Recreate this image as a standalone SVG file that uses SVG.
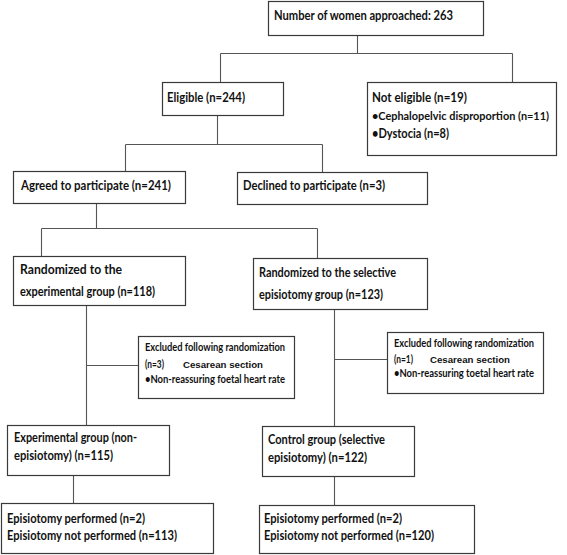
<svg xmlns="http://www.w3.org/2000/svg" width="567" height="555" viewBox="0 0 567 555">
<style>
.box{fill:#fff;stroke:#3a3a3a;stroke-width:1.2}
.c{fill:none;stroke:#555;stroke-width:1.1}
text{font-family:Lato,"Open Sans","Liberation Sans",sans-serif;font-size:13px;fill:#111;font-weight:bold}
.s{font-size:11px}
.a{font-family:"Liberation Sans",Arial,sans-serif;font-size:9px;font-weight:bold}
</style>
<rect width="567" height="555" fill="#fff"/>
<g id="connectors">
<path class="c" d="M357.5,35V53.5M220.5,53.5H512.5M220.5,53.5V82M512.5,53.5V82"/>
<path class="c" d="M217.5,115V144.5M125.5,144.5H322.5M125.5,144.5V171M322.5,144.5V172"/>
<path class="c" d="M96.5,203V228.5M41.5,228.5H317.5M41.5,228.5V256M317.5,228.5V258"/>
<path class="c" d="M86.5,305V425M86.5,365.5H138"/>
<path class="c" d="M334.5,309V426M334.5,359.5H387"/>
<path class="c" d="M73.5,475V503M334.5,476V505"/>
</g>
<g id="n1"><rect class="box" x="268.5" y="1.5" width="215" height="34"/>
<text x="274" y="20" textLength="179" lengthAdjust="spacingAndGlyphs">Number of women approached: 263</text></g>
<g id="n2"><rect class="box" x="162.5" y="82.5" width="121" height="33"/>
<text x="167" y="102" textLength="78" lengthAdjust="spacingAndGlyphs">Eligible (n=244)</text></g>
<g id="n3"><rect class="box" x="367.5" y="82.5" width="189" height="73"/>
<text x="372" y="102" textLength="95" lengthAdjust="spacingAndGlyphs">Not eligible (n=19)</text>
<text x="372" y="120" textLength="177" lengthAdjust="spacingAndGlyphs" style="font-size:11.6px">•Cephalopelvic disproportion (n=11)</text>
<text x="372" y="138" textLength="77" lengthAdjust="spacingAndGlyphs">•Dystocia (n=8)</text></g>
<g id="n4"><rect class="box" x="13.5" y="171.5" width="172" height="32"/>
<text x="21" y="190" textLength="150" lengthAdjust="spacingAndGlyphs">Agreed to participate (n=241)</text></g>
<g id="n5"><rect class="box" x="237.5" y="172.5" width="190" height="32"/>
<text x="243" y="190" textLength="142" lengthAdjust="spacingAndGlyphs">Declined to participate (n=3)</text></g>
<g id="n6"><rect class="box" x="13.5" y="256.5" width="172" height="49"/>
<text x="20" y="274" textLength="102" lengthAdjust="spacingAndGlyphs">Randomized to the</text>
<text x="20" y="296" textLength="135" lengthAdjust="spacingAndGlyphs">experimental group (n=118)</text></g>
<g id="n7"><rect class="box" x="253.5" y="258.5" width="174" height="51"/>
<text x="259" y="277" textLength="137" lengthAdjust="spacingAndGlyphs">Randomized to the selective</text>
<text x="259" y="299" textLength="124" lengthAdjust="spacingAndGlyphs">episiotomy group (n=123)</text></g>
<g id="n8"><rect class="box" x="138.5" y="336.5" width="156" height="62"/>
<text class="s" x="145" y="351" textLength="140" lengthAdjust="spacingAndGlyphs">Excluded following randomization</text>
<text class="s" x="145" y="368" textLength="19" lengthAdjust="spacingAndGlyphs">(n=3)</text>
<text class="a" x="183" y="368" textLength="80" lengthAdjust="spacingAndGlyphs">Cesarean section</text>
<text class="s" x="145" y="383" textLength="140" lengthAdjust="spacingAndGlyphs">•Non-reassuring foetal heart rate</text></g>
<g id="n9"><rect class="box" x="387.5" y="332.5" width="156" height="61"/>
<text class="s" x="394" y="347" textLength="140" lengthAdjust="spacingAndGlyphs">Excluded following randomization</text>
<text class="s" x="394" y="363" textLength="19" lengthAdjust="spacingAndGlyphs">(n=1)</text>
<text class="a" x="430" y="363" textLength="80" lengthAdjust="spacingAndGlyphs">Cesarean section</text>
<text class="s" x="394" y="377" textLength="140" lengthAdjust="spacingAndGlyphs">•Non-reassuring toetal heart rate</text></g>
<g id="n10"><rect class="box" x="7.5" y="425.5" width="162" height="50"/>
<text x="14" y="442" textLength="123" lengthAdjust="spacingAndGlyphs">Experimental group (non-</text>
<text x="14" y="460" textLength="99" lengthAdjust="spacingAndGlyphs">episiotomy) (n=115)</text></g>
<g id="n11"><rect class="box" x="262.5" y="426.5" width="152" height="50"/>
<text x="268" y="444" textLength="117" lengthAdjust="spacingAndGlyphs">Control group (selective</text>
<text x="268" y="462" textLength="99" lengthAdjust="spacingAndGlyphs">episiotomy) (n=122)</text></g>
<g id="n12"><rect class="box" x="1.5" y="503.5" width="212" height="50"/>
<text x="7" y="523" textLength="138" lengthAdjust="spacingAndGlyphs">Episiotomy performed (n=2)</text>
<text x="7" y="540" textLength="170" lengthAdjust="spacingAndGlyphs">Episiotomy not performed (n=113)</text></g>
<g id="n13"><rect class="box" x="259.5" y="505.5" width="215" height="48"/>
<text x="264" y="523" textLength="138" lengthAdjust="spacingAndGlyphs">Episiotomy performed (n=2)</text>
<text x="264" y="540" textLength="170" lengthAdjust="spacingAndGlyphs">Episiotomy not performed (n=120)</text></g>
</svg>
